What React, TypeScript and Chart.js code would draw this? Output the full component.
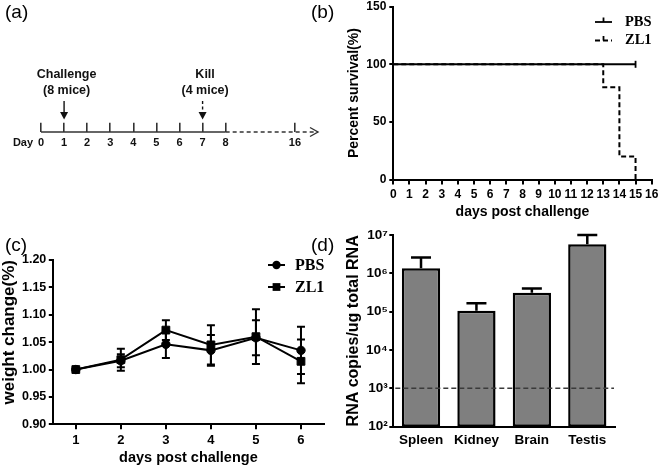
import React, { useEffect, useRef } from 'react';
import { Chart, registerables } from 'chart.js';

Chart.register(...registerables);

const SANS = "'Liberation Sans', Arial, Helvetica, sans-serif";
const SERIF = "'Liberation Serif', 'Times New Roman', Times, serif";

// ---------- (a) experiment timeline ----------
const timelineLabels = ['0', '1', '2', '3', '4', '5', '6', '7', '8', '', '', '16', ''];
const timelineSolidEnd = '8';
const eventDays = ['1', '7'];
const eventTitles = ['Challenge', 'Kill'];
const eventNotes = ['(8 mice)', '(4 mice)'];
const eventDashed = [false, true];

// ---------- (b) survival ----------
const survivalSeries = ['PBS', 'ZL1'];
const pbsSurvivalDays = [0, 15];
const pbsSurvival = [100, 100];
const zl1SurvivalDays = [0, 13, 14, 15];
const zl1Survival = [100, 80, 20, 0];

// ---------- (c) weight change ----------
const weightDays = ['1', '2', '3', '4', '5', '6'];
const weightTicks = [0.9, 0.95, 1.0, 1.05, 1.1, 1.15, 1.2];
const pbsWeight = [1.0, 1.016, 1.046, 1.035, 1.058, 1.035];
const pbsWeightErr = [0, 0.012, 0.025, 0.028, 0.032, 0.043];
const zl1Weight = [1.0, 1.018, 1.072, 1.045, 1.06, 1.015];
const zl1WeightErr = [0, 0.02, 0.018, 0.036, 0.05, 0.04];

// ---------- (d) RNA copies ----------
const tissues = ['Spleen', 'Kidney', 'Brain', 'Testis'];
const rnaCopies = [1.35e6, 1.06e5, 3.1e5, 5.7e6];
const rnaCopiesErr = [1.25e6, 5.9e4, 9.0e4, 4.3e6];
const detectionLimit = 1e3;
const rnaExponents = [2, 3, 4, 5, 6, 7];
const SUP = ['⁰', '¹', '²', '³', '⁴', '⁵', '⁶', '⁷', '⁸', '⁹'];

const fixW = (w: number) => (s: any) => {
  s.width = w;
  s.paddingTop = 0; s.paddingBottom = 0; s.paddingLeft = 0; s.paddingRight = 0;
};
const fixH = (h: number) => (s: any) => {
  s.height = h;
  s.paddingTop = 0; s.paddingBottom = 0; s.paddingLeft = 0; s.paddingRight = 0;
};

const baseOpts = {
  animation: false as const,
  responsive: false,
  events: [] as any[],
};

function panelLabel(ctx: CanvasRenderingContext2D, text: string, x: number, y: number) {
  ctx.save();
  ctx.fillStyle = '#000';
  ctx.font = `19px ${SANS}`;
  ctx.textAlign = 'left';
  ctx.textBaseline = 'middle';
  ctx.fillText(text, x, y);
  ctx.restore();
}

function makeTimeline(canvas: HTMLCanvasElement) {
  const endIdx = timelineLabels.indexOf(timelineSolidEnd);
  const solid = timelineLabels.map((_, i) => (i <= endIdx ? 0 : null));
  const dashed = timelineLabels.map((_, i) => (i >= endIdx ? 0 : null));
  const plugin = {
    id: 'timelineDecor',
    afterDraw(chart: any) {
      const { ctx } = chart;
      const xs = chart.scales.x;
      const ys = chart.scales.y;
      const yAxis = ys.getPixelForValue(0);
      const xEnd = xs.getPixelForValue(timelineLabels.length - 1);
      ctx.save();
      ctx.strokeStyle = '#333';
      ctx.lineWidth = 1.4;
      ctx.beginPath();
      ctx.moveTo(xEnd - 8, yAxis - 4.5);
      ctx.lineTo(xEnd, yAxis);
      ctx.lineTo(xEnd - 8, yAxis + 4.5);
      ctx.stroke();
      ctx.fillStyle = '#111';
      ctx.textAlign = 'center';
      ctx.textBaseline = 'middle';
      ctx.font = `bold 11px ${SANS}`;
      ctx.fillText('Day', 23, 143);
      eventDays.forEach((d, i) => {
        const x = xs.getPixelForValue(timelineLabels.indexOf(d));
        ctx.font = `bold 12.5px ${SANS}`;
        ctx.fillText(eventTitles[i], x + 2.5, 75);
        ctx.fillText(eventNotes[i], x + 2.5, 90.5);
        ctx.strokeStyle = '#111';
        ctx.lineWidth = 1.4;
        ctx.setLineDash(eventDashed[i] ? [3, 2.5] : []);
        ctx.beginPath();
        ctx.moveTo(x, 101);
        ctx.lineTo(x, 112);
        ctx.stroke();
        ctx.setLineDash([]);
        ctx.beginPath();
        ctx.moveTo(x - 4, 112);
        ctx.lineTo(x + 4, 112);
        ctx.lineTo(x, 119.5);
        ctx.closePath();
        ctx.fill();
      });
      ctx.restore();
      panelLabel(ctx, '(a)', 5, 13);
    },
  };
  return new Chart(canvas, {
    type: 'line',
    data: {
      labels: timelineLabels,
      datasets: [
        { data: solid, borderColor: '#333', borderWidth: 1.6, pointRadius: 0, clip: false as any },
        { data: dashed, borderColor: '#333', borderWidth: 1.6, borderDash: [4, 3], pointRadius: 0, clip: false as any },
      ],
    },
    options: {
      ...baseOpts,
      layout: { padding: { left: 41, right: 12, top: 122.7, bottom: 0 } },
      plugins: { legend: { display: false }, tooltip: { enabled: false } },
      scales: {
        x: {
          type: 'category',
          offset: false,
          afterFit: fixH(48),
          border: { display: false },
          grid: {
            drawTicks: false,
            lineWidth: 1.6,
            color: (c: any) => (c.tick && c.tick.label !== '' ? '#333' : 'rgba(0,0,0,0)'),
          },
          ticks: {
            autoSkip: false,
            maxRotation: 0,
            padding: 5.5,
            color: '#111',
            font: { family: SANS, size: 11, weight: 'bold', lineHeight: 1 },
          },
        },
        y: { display: false, min: 0, max: 1 },
      },
    } as any,
    plugins: [plugin],
  });
}

function makeSurvival(canvas: HTMLCanvasElement) {
  const plugin = {
    id: 'survivalDecor',
    afterDraw(chart: any) {
      const { ctx } = chart;
      chart.data.datasets.forEach((ds: any, i: number) => {
        const y = 22 + i * 18.5;
        ctx.save();
        ctx.strokeStyle = '#000';
        ctx.lineWidth = 1.8;
        ctx.setLineDash(ds.borderDash || []);
        ctx.beginPath();
        ctx.moveTo(290, y);
        ctx.lineTo(307, y);
        ctx.stroke();
        ctx.setLineDash([]);
        ctx.beginPath();
        ctx.moveTo(298.5, y);
        ctx.lineTo(298.5, y - 4.5);
        ctx.stroke();
        ctx.fillStyle = '#000';
        ctx.font = `bold 14.5px ${SERIF}`;
        ctx.textAlign = 'left';
        ctx.textBaseline = 'middle';
        ctx.fillText(ds.label, 320, y);
        ctx.restore();
      });
      panelLabel(ctx, '(b)', 6, 13);
    },
  };
  const tickFont = { family: SANS, size: 12, weight: 'bold', lineHeight: 1 };
  const titleFont = { family: SANS, size: 14, weight: 'bold', lineHeight: 1 };
  return new Chart(canvas, {
    type: 'line',
    data: {
      datasets: [
        {
          label: survivalSeries[0],
          data: pbsSurvivalDays.map((d, i) => ({ x: d, y: pbsSurvival[i] })),
          borderColor: '#000',
          borderWidth: 2,
          pointStyle: 'line',
          pointRotation: 90,
          pointBorderColor: '#000',
          pointBorderWidth: 1.8,
          pointRadius: (c: any) => (c.dataIndex === pbsSurvival.length - 1 ? 3.5 : 0),
          clip: false as any,
        },
        {
          label: survivalSeries[1],
          data: zl1SurvivalDays.map((d, i) => ({ x: d, y: zl1Survival[i] })),
          borderColor: '#000',
          borderWidth: 2,
          borderDash: [5, 3],
          stepped: 'before',
          pointRadius: 0,
          clip: false as any,
        },
      ],
    },
    options: {
      ...baseOpts,
      layout: { padding: { left: 28, right: 8.3, top: 6.7, bottom: 0 } },
      plugins: { legend: { display: false }, tooltip: { enabled: false } },
      scales: {
        x: {
          type: 'linear',
          min: 0,
          max: 16,
          afterFit: fixH(50.5),
          border: { color: '#000', width: 2 },
          grid: { drawOnChartArea: false, tickLength: 5, lineWidth: 2, color: '#000' },
          ticks: { stepSize: 1, autoSkip: false, maxRotation: 0, padding: 4, color: '#000', font: tickFont },
          title: { display: true, text: 'days post challenge', color: '#000', font: titleFont, padding: { top: 0, bottom: 11 } },
        },
        y: {
          min: 0,
          max: 150,
          afterFit: fixW(60.3),
          border: { color: '#000', width: 2 },
          grid: { drawOnChartArea: false, tickLength: 4, lineWidth: 2, color: '#000' },
          ticks: { stepSize: 50, padding: 3, color: '#000', font: tickFont },
          title: { display: true, text: 'Percent survival(%)', color: '#000', font: titleFont, padding: { top: 14.5, bottom: 0 } },
        },
      },
    } as any,
    plugins: [plugin],
  });
}

function drawMarker(ctx: CanvasRenderingContext2D, style: string, x: number, y: number, r: number) {
  ctx.beginPath();
  if (style === 'rect') {
    const s = r * Math.SQRT1_2;
    ctx.rect(x - s, y - s, 2 * s, 2 * s);
  } else {
    ctx.arc(x, y, r, 0, Math.PI * 2);
  }
  ctx.fill();
}

function makeWeight(canvas: HTMLCanvasElement) {
  const plugin = {
    id: 'weightDecor',
    afterDatasetsDraw(chart: any) {
      const { ctx } = chart;
      const xs = chart.scales.x;
      const ys = chart.scales.y;
      ctx.save();
      ctx.strokeStyle = '#000';
      ctx.lineWidth = 2;
      chart.data.datasets.forEach((ds: any) => {
        ds.errors.forEach((e: number, i: number) => {
          if (!e) return;
          const x = xs.getPixelForValue(i);
          const v = ds.data[i];
          const yt = ys.getPixelForValue(v + e);
          const yb = ys.getPixelForValue(v - e);
          ctx.beginPath();
          ctx.moveTo(x, yt);
          ctx.lineTo(x, yb);
          ctx.moveTo(x - 4, yt);
          ctx.lineTo(x + 4, yt);
          ctx.moveTo(x - 4, yb);
          ctx.lineTo(x + 4, yb);
          ctx.stroke();
        });
      });
      ctx.restore();
    },
    afterDraw(chart: any) {
      const { ctx } = chart;
      chart.data.datasets.forEach((ds: any, i: number) => {
        const y = 35 + i * 22;
        ctx.save();
        ctx.strokeStyle = ds.borderColor;
        ctx.lineWidth = ds.borderWidth;
        ctx.beginPath();
        ctx.moveTo(268, y);
        ctx.lineTo(285, y);
        ctx.stroke();
        ctx.fillStyle = ds.borderColor;
        drawMarker(ctx, ds.pointStyle, 276.5, y, ds.pointRadius);
        ctx.font = `bold 16px ${SERIF}`;
        ctx.textAlign = 'left';
        ctx.textBaseline = 'middle';
        ctx.fillText(ds.label, 295, y + 0.5);
        ctx.restore();
      });
      panelLabel(ctx, '(c)', 5, 16);
    },
  };
  const tickFont = { family: SANS, size: 12.5, weight: 'bold', lineHeight: 1 };
  return new Chart(canvas, {
    type: 'line',
    data: {
      labels: weightDays,
      datasets: [
        {
          label: survivalSeries[0],
          data: pbsWeight,
          errors: pbsWeightErr,
          borderColor: '#000',
          backgroundColor: '#000',
          borderWidth: 2,
          pointStyle: 'circle',
          pointRadius: 4.2,
          pointBorderWidth: 1,
        },
        {
          label: survivalSeries[1],
          data: zl1Weight,
          errors: zl1WeightErr,
          borderColor: '#000',
          backgroundColor: '#000',
          borderWidth: 2,
          pointStyle: 'rect',
          pointRadius: 5.5,
          pointBorderWidth: 1,
        },
      ] as any,
    },
    options: {
      ...baseOpts,
      layout: { padding: { left: 0, right: 3.3, top: 30, bottom: 0 } },
      plugins: { legend: { display: false }, tooltip: { enabled: false } },
      scales: {
        x: {
          type: 'category',
          offset: true,
          afterFit: fixH(41.7),
          border: { color: '#000', width: 2 },
          grid: { drawOnChartArea: false, tickLength: 5, lineWidth: 2, color: '#000' },
          ticks: { autoSkip: false, maxRotation: 0, padding: 4.2, color: '#000', font: { ...tickFont, size: 13 } },
          title: {
            display: true,
            text: 'days post challenge',
            color: '#000',
            font: { family: SANS, size: 14.5, weight: 'bold', lineHeight: 1 },
            padding: { top: 0, bottom: 1 },
          },
        },
        y: {
          min: 0.9,
          max: 1.2,
          afterFit: fixW(53.3),
          afterBuildTicks: (s: any) => {
            s.ticks = weightTicks.map((v) => ({ value: v }));
          },
          border: { color: '#000', width: 2 },
          grid: { drawOnChartArea: false, tickLength: 4.5, lineWidth: 2, color: '#000' },
          ticks: { padding: 2.5, color: '#000', font: tickFont, callback: (v: any) => Number(v).toFixed(2) },
          title: {
            display: true,
            text: 'weight change(%)',
            align: 'end',
            color: '#000',
            font: { family: SANS, size: 17, weight: 'bold', lineHeight: 1 },
            padding: { top: 1, bottom: 0 },
          },
        },
      },
    } as any,
    plugins: [plugin],
  });
}

function makeRna(canvas: HTMLCanvasElement) {
  const plugin = {
    id: 'rnaDecor',
    afterDatasetsDraw(chart: any) {
      const { ctx, chartArea } = chart;
      const xs = chart.scales.x;
      const ys = chart.scales.y;
      ctx.save();
      const yl = ys.getPixelForValue(detectionLimit);
      ctx.strokeStyle = '#3a3a3a';
      ctx.lineWidth = 1.5;
      ctx.setLineDash([5, 3]);
      ctx.beginPath();
      ctx.moveTo(chartArea.left + 2, yl);
      ctx.lineTo(chartArea.right - 1, yl);
      ctx.stroke();
      ctx.setLineDash([]);
      ctx.strokeStyle = '#000';
      ctx.lineWidth = 2.5;
      rnaCopies.forEach((v, i) => {
        const x = xs.getPixelForValue(i);
        const y0 = ys.getPixelForValue(v);
        const y1 = ys.getPixelForValue(v + rnaCopiesErr[i]);
        ctx.beginPath();
        ctx.moveTo(x, y0);
        ctx.lineTo(x, y1);
        ctx.moveTo(x - 10, y1);
        ctx.lineTo(x + 10, y1);
        ctx.stroke();
      });
      ctx.restore();
    },
    afterDraw(chart: any) {
      panelLabel(chart.ctx, '(d)', 6, 26);
    },
  };
  const tickFont = { family: SANS, size: 13.5, weight: 'bold', lineHeight: 1 };
  return new Chart(canvas, {
    type: 'bar',
    data: {
      labels: tissues,
      datasets: [
        {
          data: rnaCopies,
          backgroundColor: '#7f7f7f',
          borderColor: '#000',
          borderWidth: 2.5,
          borderSkipped: false,
          barPercentage: 0.69,
          categoryPercentage: 1,
        },
      ],
    },
    options: {
      ...baseOpts,
      layout: { padding: { left: 28, right: 45, top: 15, bottom: 0 } },
      plugins: { legend: { display: false }, tooltip: { enabled: false } },
      scales: {
        x: {
          type: 'category',
          afterFit: fixH(39.3),
          border: { color: '#000', width: 2 },
          grid: { display: false, drawTicks: false },
          ticks: { autoSkip: false, maxRotation: 0, padding: 7, color: '#000', font: tickFont },
        },
        y: {
          type: 'logarithmic',
          min: 100,
          max: 1e7,
          afterFit: fixW(60.3),
          afterBuildTicks: (s: any) => {
            s.ticks = rnaExponents.map((e) => ({ value: Math.pow(10, e) }));
          },
          border: { color: '#000', width: 2 },
          grid: { drawOnChartArea: false, tickLength: 4, lineWidth: 2, color: '#000' },
          ticks: {
            padding: 1.5,
            color: '#000',
            font: tickFont,
            callback: (v: any) => '10' + SUP[Math.round(Math.log10(Number(v)))],
          },
          title: {
            display: true,
            text: 'RNA copies/ug total RNA',
            color: '#000',
            font: { family: SANS, size: 16, weight: 'bold', lineHeight: 1 },
            padding: { top: 13, bottom: 0 },
          },
        },
      },
    } as any,
    plugins: [plugin],
  });
}

export default function App() {
  const aRef = useRef<HTMLCanvasElement>(null);
  const bRef = useRef<HTMLCanvasElement>(null);
  const cRef = useRef<HTMLCanvasElement>(null);
  const dRef = useRef<HTMLCanvasElement>(null);

  useEffect(() => {
    Chart.defaults.font.family = SANS;
    Chart.defaults.color = '#000';
    const charts = [
      makeTimeline(aRef.current!),
      makeSurvival(bRef.current!),
      makeWeight(cRef.current!),
      makeRna(dRef.current!),
    ];
    return () => charts.forEach((c) => c.destroy());
  }, []);

  const abs = (left: number, top: number) => ({ position: 'absolute' as const, left, top });
  return (
    <div style={{ position: 'absolute', left: 0, top: 0, width: 660, height: 466, background: '#fff', overflow: 'hidden' }}>
      <canvas ref={aRef} width={330} height={180} style={abs(0, 0)} />
      <canvas ref={bRef} width={355} height={230} style={abs(305, 0)} />
      <canvas ref={cRef} width={330} height={236} style={abs(0, 230)} />
      <canvas ref={dRef} width={355} height={246} style={abs(305, 220)} />
    </div>
  );
}
